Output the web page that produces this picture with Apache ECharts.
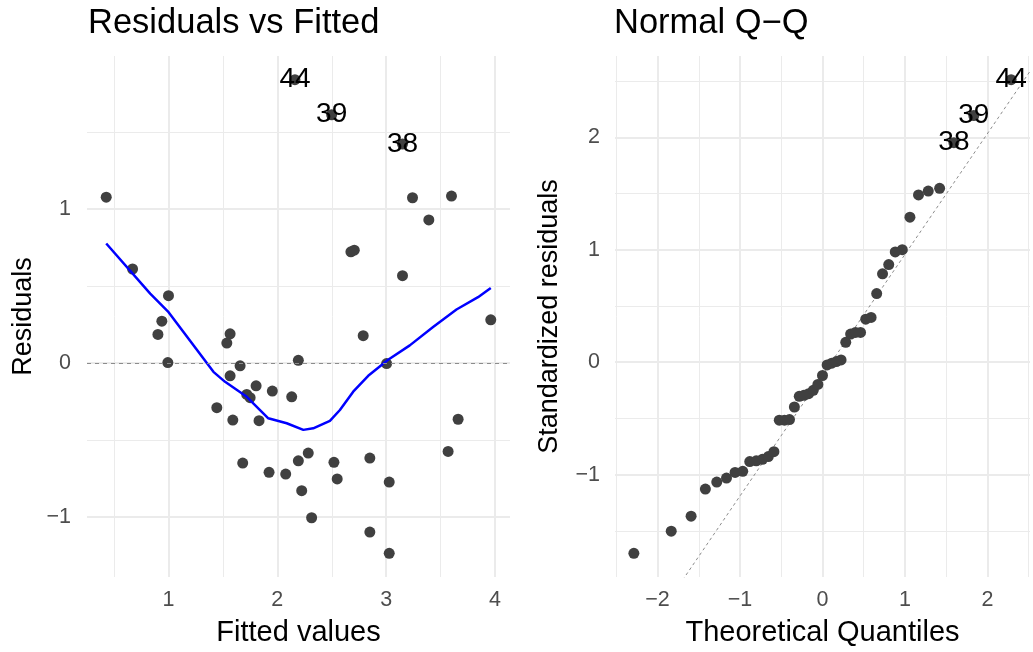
<!DOCTYPE html>
<html>
<head>
<meta charset="utf-8">
<script src="https://cdn.jsdelivr.net/npm/echarts@6/dist/echarts.min.js"></script>
<style>
html,body{margin:0;padding:0;background:#fff;}
#chart{width:1033px;height:652px;}
</style>
</head>
<body>
<div id="chart"></div>
<script>
// ---- Residuals vs Fitted data ----
const fittedVals = [0.428,0.670,1.000,0.939,0.903,0.994,1.566,1.536,1.658,1.566,
  1.805,1.719,1.750,1.954,2.132,2.193,2.789,3.004,1.444,1.591,
  1.832,3.661,3.569,1.682,1.924,2.077,2.193,2.284,2.520,2.550,
  2.850,3.028,2.224,2.315,2.850,3.028,2.162,2.499,3.150,3.242,
  3.600,3.392,2.676,2.707,3.150,3.961];
const residVals = [1.077,0.610,0.437,0.271,0.185,0.002,0.189,0.129,-0.019,-0.084,
  -0.149,-0.205,-0.226,-0.183,-0.220,0.017,0.177,-0.004,-0.291,-0.371,
  -0.375,-0.366,-0.575,-0.651,-0.711,-0.722,-0.636,-0.586,-0.646,-0.754,
  -0.618,-0.774,-0.830,-1.006,-1.099,-1.237,1.840,1.612,1.422,1.073,
  1.084,0.929,0.722,0.732,0.567,0.280];
const leftLabelIdx = [36,37,38];
const leftLabelText = ['44','39','38'];

// smoother (loess)
const smoothX = [0.428,0.832,0.994,1.413,1.520,1.719,1.917,2.086,2.239,2.330,2.483,2.575,2.697,2.835,3.018,3.217,3.431,3.646,3.844,3.961];
const smoothY = [0.776,0.450,0.335,-0.058,-0.123,-0.220,-0.360,-0.392,-0.435,-0.425,-0.377,-0.306,-0.187,-0.084,0.021,0.114,0.233,0.347,0.427,0.487];

// ---- Normal Q-Q data (45 observations) ----
const theoQuant = [-2.287,-1.834,-1.593,-1.420,-1.282,-1.164,-1.060,-0.967,-0.882,-0.803,
  -0.728,-0.657,-0.589,-0.524,-0.461,-0.400,-0.341,-0.282,-0.225,-0.168,
  -0.112,-0.056,0.000,0.056,0.112,0.168,0.225,0.282,0.341,0.400,
  0.461,0.524,0.589,0.657,0.728,0.803,0.882,0.967,1.060,1.164,
  1.282,1.420,1.593,1.834,2.287];
const stdResid = [-1.699,-1.502,-1.369,-1.128,-1.066,-1.030,-0.980,-0.970,-0.883,-0.877,
  -0.863,-0.839,-0.795,-0.515,-0.515,-0.510,-0.398,-0.303,-0.294,-0.280,
  -0.250,-0.197,-0.118,-0.024,-0.009,0.006,0.020,0.177,0.250,0.265,
  0.265,0.383,0.398,0.610,0.786,0.868,0.981,1.001,1.290,1.487,
  1.522,1.546,1.952,2.193,2.512];
const rightLabelIdx = [44,43,42];
const rightLabelText = ['44','39','38'];
const qqIntercept = -0.115;
const qqSlope = 1.074;

// ---- helpers ----
function expand(arr){
  const mn = Math.min.apply(null, arr), mx = Math.max.apply(null, arr);
  const d = (mx - mn) * 0.05;
  return [mn - d, mx + d];
}
const FONT = '"Liberation Sans", Arial, Helvetica, sans-serif';
const fmt = v => (Math.abs(v - Math.round(v)) < 1e-9) ? String(Math.round(v)).replace('-', '\u2212') : '';

const lx = expand(fittedVals), ly = expand(residVals);
const rx = expand(theoQuant), ry = expand(stdResid);

function axisCommon(name, gap, isX, margin){
  return {
    type: 'value',
    name: name,
    nameLocation: 'middle',
    nameGap: gap,
    nameTextStyle: {fontFamily: FONT, fontSize: isX ? 29 : 27, color: '#000'},
    splitNumber: isX ? 5 : 4,
    axisLine: {show: false},
    axisTick: {show: false},
    axisLabel: {fontFamily: FONT, fontSize: 21.5, color: '#4D4D4D', margin: margin, formatter: fmt},
    splitLine: {show: true, showMinLine: false, showMaxLine: false, lineStyle: {color: '#EBEBEB', width: 2}},
    minorTick: {show: false, splitNumber: 2},
    minorSplitLine: {show: true, lineStyle: {color: '#EBEBEB', width: 1}}
  };
}

const xA0 = Object.assign(axisCommon('Fitted values', 41, true, 12), {gridIndex: 0, min: lx[0], max: lx[1]});
const yA0 = Object.assign(axisCommon('Residuals', 50, false, 16), {gridIndex: 0, min: ly[0], max: ly[1]});
const xA1 = Object.assign(axisCommon('Theoretical Quantiles', 41, true, 12), {gridIndex: 1, min: rx[0], max: rx[1]});
const yA1 = Object.assign(axisCommon('Standardized residuals', 52, false, 15), {gridIndex: 1, min: ry[0], max: ry[1]});

const labelStyle = {show: true, position: 'inside', fontFamily: FONT, fontSize: 28, color: '#000'};

const leftData = fittedVals.map((x, i) => {
  const k = leftLabelIdx.indexOf(i);
  const item = {value: [x, residVals[i]]};
  if (k >= 0) item.label = Object.assign({formatter: leftLabelText[k]}, labelStyle);
  return item;
});
const rightData = theoQuant.map((x, i) => {
  const k = rightLabelIdx.indexOf(i);
  const item = {value: [x, stdResid[i]]};
  if (k >= 0) item.label = Object.assign({formatter: rightLabelText[k]}, labelStyle);
  return item;
});
const smoothData = smoothX.map((x, i) => [x, smoothY[i]]);
const qqLine = [[rx[0], qqIntercept + qqSlope * rx[0]], [rx[1], qqIntercept + qqSlope * rx[1]]];

const chart = echarts.init(document.getElementById('chart'), null, {renderer: 'canvas'});
chart.setOption({
  animation: false,
  backgroundColor: '#fff',
  title: [
    {text: 'Residuals vs Fitted', left: 88, top: 6, padding: 0, textStyle: {fontFamily: FONT, fontSize: 34.5, fontWeight: 'normal', color: '#000'}},
    {text: 'Normal Q\u2212Q', left: 614, top: 6, padding: 0, textStyle: {fontFamily: FONT, fontSize: 34.5, fontWeight: 'normal', color: '#000'}}
  ],
  grid: [
    {left: 87, top: 56, width: 423, height: 524, containLabel: false},
    {left: 615, top: 56, width: 423, height: 524, containLabel: false}
  ],
  xAxis: [xA0, xA1],
  yAxis: [yA0, yA1],
  series: [
    {
      type: 'scatter', xAxisIndex: 0, yAxisIndex: 0, symbolSize: 11,
      itemStyle: {color: '#404040', opacity: 1},
      data: leftData, z: 3,
      markLine: {silent: true, symbol: 'none', label: {show: false},
        lineStyle: {color: '#8C8C8C', type: [4, 4], width: 1},
        data: [{yAxis: 0}]}
    },
    {
      type: 'line', xAxisIndex: 0, yAxisIndex: 0, data: smoothData, showSymbol: false,
      lineStyle: {color: '#0000FF', width: 2.5}, z: 4, silent: true
    },
    {
      type: 'line', xAxisIndex: 1, yAxisIndex: 1, data: qqLine, showSymbol: false,
      lineStyle: {color: '#8C8C8C', type: [3, 3], width: 1}, z: 2, silent: true
    },
    {
      type: 'scatter', xAxisIndex: 1, yAxisIndex: 1, symbolSize: 11,
      itemStyle: {color: '#404040', opacity: 1},
      data: rightData, z: 3
    }
  ]
});
</script>
</body>
</html>
